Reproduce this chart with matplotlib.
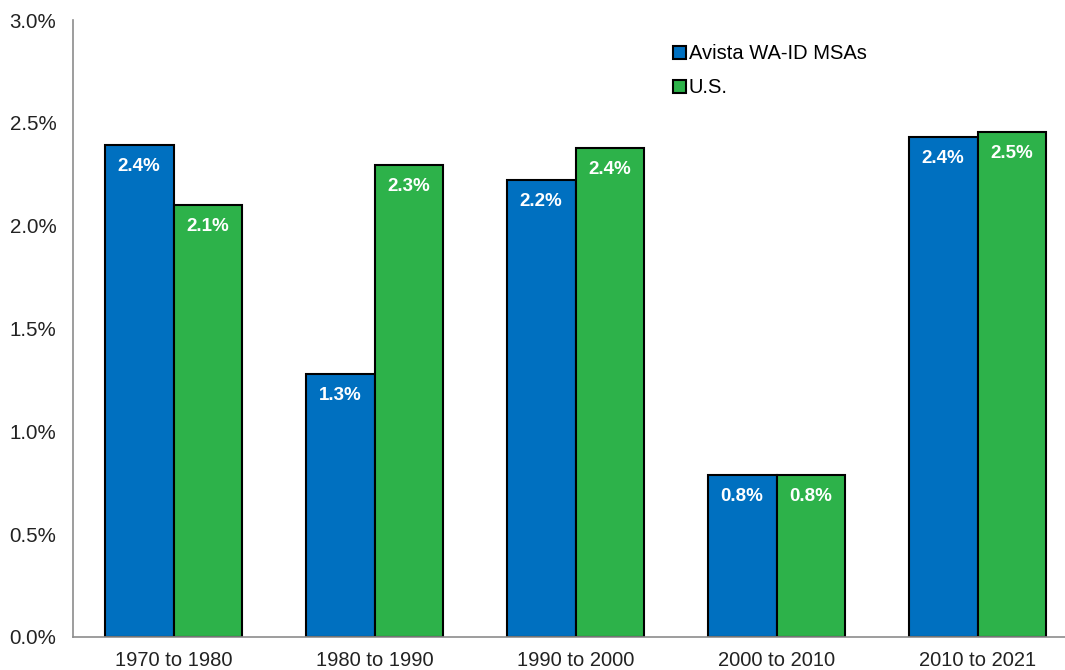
import numpy as np
import matplotlib
matplotlib.use('Agg')
import matplotlib.pyplot as plt

# growth rates by decade
periods = ["1970 to 1980", "1980 to 1990", "1990 to 2000", "2000 to 2010", "2010 to 2021"]
avista = [2.39, 1.28, 2.22, 0.79, 2.43]
us = [2.10, 2.295, 2.38, 0.79, 2.455]
avista_labels = ["2.4%", "1.3%", "2.2%", "0.8%", "2.4%"]
us_labels = ["2.1%", "2.3%", "2.4%", "0.8%", "2.5%"]
yticks = [0.0, 0.5, 1.0, 1.5, 2.0, 2.5, 3.0]

plt.rcParams['font.family'] = ['Liberation Sans', 'DejaVu Sans']

fig = plt.figure(figsize=(10.65, 6.7), dpi=100)
ax = fig.add_axes([73/1065, 33/670, 1 - 73/1065, 617/670])

x = np.arange(len(periods))
w = 0.343
b1 = ax.bar(x - w/2, avista, w, color="#0070C0", edgecolor="black", linewidth=1.5, label="Avista WA-ID MSAs")
b2 = ax.bar(x + w/2, us, w, color="#2DB24A", edgecolor="black", linewidth=1.5, label="U.S.")

for bars, labs in [(b1, avista_labels), (b2, us_labels)]:
    for r, t in zip(bars, labs):
        ax.annotate(t, (r.get_x() + r.get_width()/2, r.get_height()),
                    xytext=(0, -13), textcoords="offset pixels",
                    ha="center", va="top", color="white", fontsize=13.5, fontweight="bold")

ax.set_xlim(-0.5, (1065 - 73)/201 - 0.5)
ax.set_ylim(0, 3.0)
ax.set_yticks(yticks)
ax.set_yticklabels([f"{v:.1f}%" for v in yticks], fontsize=14.8, color="#222222")
ax.set_xticks(x)
ax.set_xticklabels(periods, fontsize=14.5, color="#222222")
ax.tick_params(length=0, pad=10)
ax.tick_params(axis='y', pad=12)
for s in ["top", "right"]:
    ax.spines[s].set_visible(False)
for s in ["left", "bottom"]:
    ax.spines[s].set_color("#8c8c8c")
    ax.spines[s].set_linewidth(1.2)

ax.legend(loc="upper left", bbox_to_anchor=(0.587, 0.99), frameon=False,
          fontsize=14.5, handlelength=0.6, handleheight=0.6, handletextpad=0.15,
          labelspacing=0.75)

fig.savefig("out.png", dpi=100)
